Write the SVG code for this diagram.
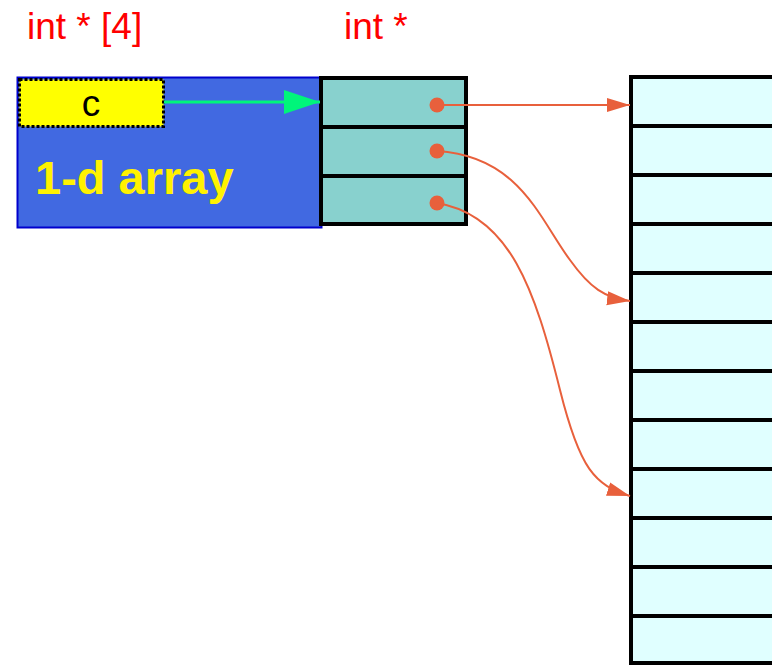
<svg xmlns="http://www.w3.org/2000/svg" width="772" height="665" viewBox="0 0 772 665">
<style>
.lbl{font-family:"Liberation Sans",Arial,sans-serif;font-size:37px;fill:#ff0000}
.cell{fill:#88d1ce;stroke:#000;stroke-width:4}
.mem{fill:#e0ffff;stroke:#000;stroke-width:4}
.ptr{fill:none;stroke:#e8603c;stroke-width:2}
.dot{fill:#e8603c}
</style>
<defs>
<marker id="ah" markerUnits="userSpaceOnUse" markerWidth="24" markerHeight="16" refX="23" refY="7" orient="auto" viewBox="0 0 24 14">
<path d="M0,0 L23,7 L0,14 Z" fill="#e8603c"/>
</marker>
<marker id="gh" markerUnits="userSpaceOnUse" markerWidth="37" markerHeight="25" refX="36" refY="12" orient="auto" viewBox="0 0 37 24">
<path d="M0,0 L36,12 L0,24 Z" fill="#00f57a"/>
</marker>
</defs>
<rect width="772" height="665" fill="#fff"/>
<g id="label-int4"><text class="lbl" x="27" y="39">int * [4]</text></g>
<g id="label-intptr"><text class="lbl" x="344" y="39">int *</text></g>
<g id="array1d">
<rect x="17.5" y="77.5" width="304" height="150" fill="#4169e1" stroke="#0000cd" stroke-width="2"/>
<text x="35" y="194" font-family="'Liberation Sans',Arial,sans-serif" font-size="47" font-weight="bold" fill="#fff200">1-d array</text>
</g>
<g id="c">
<rect x="19.5" y="79.5" width="144" height="47" fill="#ffff00" stroke="#000" stroke-width="3" stroke-dasharray="3 2"/>
<text x="91" y="116" text-anchor="middle" font-family="'Liberation Sans',Arial,sans-serif" font-size="37" fill="#000">c</text>
</g>
<g id="ptrs">
<rect class="cell" x="321" y="78" width="145" height="49"/>
<rect class="cell" x="321" y="127" width="145" height="49"/>
<rect class="cell" x="321" y="176" width="145" height="48"/>
<circle class="dot" cx="437" cy="105" r="7.5"/>
<circle class="dot" cx="437" cy="151" r="7.5"/>
<circle class="dot" cx="437" cy="203" r="7.5"/>
</g>
<g id="memory">
<rect class="mem" x="631" y="77" width="160" height="49"/>
<rect class="mem" x="631" y="126" width="160" height="49"/>
<rect class="mem" x="631" y="175" width="160" height="49"/>
<rect class="mem" x="631" y="224" width="160" height="49"/>
<rect class="mem" x="631" y="273" width="160" height="49"/>
<rect class="mem" x="631" y="322" width="160" height="49"/>
<rect class="mem" x="631" y="371" width="160" height="49"/>
<rect class="mem" x="631" y="420" width="160" height="49"/>
<rect class="mem" x="631" y="469" width="160" height="49"/>
<rect class="mem" x="631" y="518" width="160" height="49"/>
<rect class="mem" x="631" y="567" width="160" height="49"/>
<rect class="mem" x="631" y="616" width="160" height="47"/>
</g>
<g id="connectors">
<line x1="164" y1="102" x2="320" y2="102" stroke="#00f57a" stroke-width="3" marker-end="url(#gh)"/>
<path class="ptr" d="M437,105 L630,105" marker-end="url(#ah)"/>
<path class="ptr" d="M437,151 C520,156 540,220 570,260 C590,288 605,298 630,301" marker-end="url(#ah)"/>
<path class="ptr" d="M437,203 C510,215 535,290 560,390 C580,470 595,485 630,496" marker-end="url(#ah)"/>
</g>
</svg>
